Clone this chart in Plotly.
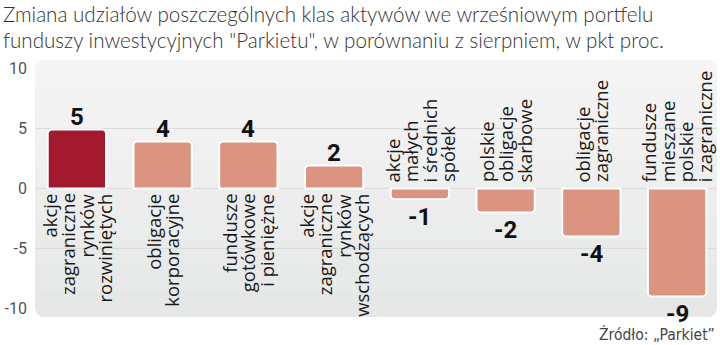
import plotly.graph_objects as go

# ---- data ----
label_lines = [
    ["akcje", "zagraniczne", "rynków", "rozwiniętych"],
    ["obligacje", "korporacyjne"],
    ["fundusze", "gotówkowe", "i pieniężne"],
    ["akcje", "zagraniczne", "rynków", "wschodzących"],
    ["akcje", "małych", "i średnich", "spółek"],
    ["polskie", "obligacje", "skarbowe"],
    ["obligacje", "zagraniczne"],
    ["fundusze", "mieszane", "polskie", "i zagraniczne"],
]
categories = [" ".join(l) for l in label_lines]
values = [4.9, 3.9, 3.9, 1.9, -0.9, -2.0, -4.0, -9.0]
value_labels = ["5", "4", "4", "2", "-1", "-2", "-4", "-9"]
y_ticks = [-10, -5, 0, 5, 10]
y_tick_labels = ["-10", "-5", "0", "5", "10"]
grid_values = [-5, 0, 5]

title_lines = [
    "Zmiana udziałów poszczególnych klas aktywów we wrześniowym portfelu",
    "funduszy inwestycyjnych \"Parkietu\", w porównaniu z sierpniem, w pkt proc.",
]
source_text = "Źródło: „Parkiet”"

# ---- style ----
W, H = 720, 345
ML, MR, MT, MB = 34, 0, 60, 27
PW, PH = W - ML - MR, H - MT - MB
HIGHLIGHT = "#a3192e"
BASE = "#db9480"
colors = [HIGHLIGHT] + [BASE] * (len(values) - 1)
LABEL_FONT = dict(family="Open Sans", size=18.5, color="#1a1a1a", weight=500)
VALUE_FONT = dict(family="Roboto", size=24, color="#111111", weight=700)
TITLE_FONT = dict(family="Lato", size=20.6, color="#333333", weight=300)
LINE_STEP = 18.5

fig = go.Figure(go.Bar(
    x=categories, y=values,
    marker=dict(color=colors, line=dict(color="white", width=2), cornerradius=4),
    width=0.68, hoverinfo="skip",
))


def px2x(px):
    return (px - ML) / PW


def px2y(py):
    return (MT + PH - py) / PH


# rounded background panel with a soft vertical gradient (stacked bands)
L, R, T, B, RAD = 35, 717, 60, 317, 10
top_rgb, bot_rgb = (245, 245, 245), (230, 231, 231)
NB = 10
shapes = []
xa, xb = px2x(L), px2x(R)
rx = RAD / PW
for k in range(NB):
    ptop = T + (B - T) * k / NB
    pbot = T + (B - T) * (k + 1) / NB + (0.6 if k < NB - 1 else 0)
    f = k / (NB - 1)
    c = tuple(round(top_rgb[j] + (bot_rgb[j] - top_rgb[j]) * f) for j in range(3))
    yt, yb = px2y(ptop), px2y(pbot)
    ry = RAD / PH
    if k == 0:
        path = (f"M {xa},{yb} L {xa},{yt-ry} Q {xa},{yt} {xa+rx},{yt} L {xb-rx},{yt} "
                f"Q {xb},{yt} {xb},{yt-ry} L {xb},{yb} Z")
    elif k == NB - 1:
        path = (f"M {xa},{yt} L {xb},{yt} L {xb},{yb+ry} Q {xb},{yb} {xb-rx},{yb} "
                f"L {xa+rx},{yb} Q {xa},{yb} {xa},{yb+ry} Z")
    else:
        path = f"M {xa},{yt} L {xb},{yt} L {xb},{yb} L {xa},{yb} Z"
    shapes.append(dict(type="path", path=path, xref="paper", yref="paper",
                       fillcolor="rgb(%d,%d,%d)" % c, line=dict(width=0), layer="below"))
for g in grid_values:
    shapes.append(dict(type="line", xref="paper", yref="y", x0=xa, x1=xb, y0=g, y1=g,
                       line=dict(color="#d9d9d9", width=1), layer="below"))

annotations = []
for cat, lines, v, vl in zip(categories, label_lines, values, value_labels):
    n = len(lines)
    for i, ln in enumerate(lines):
        annotations.append(dict(
            x=cat, y=0, xref="x", yref="y", text=ln, textangle=-90, showarrow=False,
            xanchor="center", yanchor="top" if v > 0 else "bottom",
            xshift=(i - (n - 1) / 2) * LINE_STEP, yshift=-3 if v > 0 else 4,
            font=LABEL_FONT,
        ))
    annotations.append(dict(
        x=cat, y=v, xref="x", yref="y", text=vl, showarrow=False, borderpad=0,
        xanchor="center", yanchor="bottom" if v > 0 else "top",
        yshift=-2 if v > 0 else -3, font=VALUE_FONT,
    ))

for i, tl in enumerate(title_lines):
    annotations.append(dict(
        x=px2x(1), y=px2y(14 + 26 * i), xref="paper", yref="paper", text=tl,
        showarrow=False, xanchor="left", yanchor="middle", font=TITLE_FONT,
    ))

annotations.append(dict(
    x=px2x(716), y=px2y(334), xref="paper", yref="paper", text=source_text,
    showarrow=False, xanchor="right", yanchor="middle", borderpad=0,
    font=dict(family="DejaVu Sans Condensed", size=15.5, color="#444444"),
))

fig.update_layout(
    width=W, height=H,
    margin=dict(l=ML, r=MR, t=MT, b=MB, pad=0),
    paper_bgcolor="white", plot_bgcolor="rgba(0,0,0,0)",
    showlegend=False, bargap=0.32,
    xaxis=dict(showticklabels=False, showgrid=False, zeroline=False, showline=False,
               range=[-0.5, len(values) - 0.5], fixedrange=True),
    yaxis=dict(range=[-10.8, 10.7], tickvals=y_ticks, ticktext=y_tick_labels,
               showgrid=False, zeroline=False, showline=False, ticks="",
               ticklabelstandoff=6, fixedrange=True,
               tickfont=dict(family="Roboto", size=16, color="#555555")),
    shapes=shapes, annotations=annotations,
)

fig.write_html("out.html")
